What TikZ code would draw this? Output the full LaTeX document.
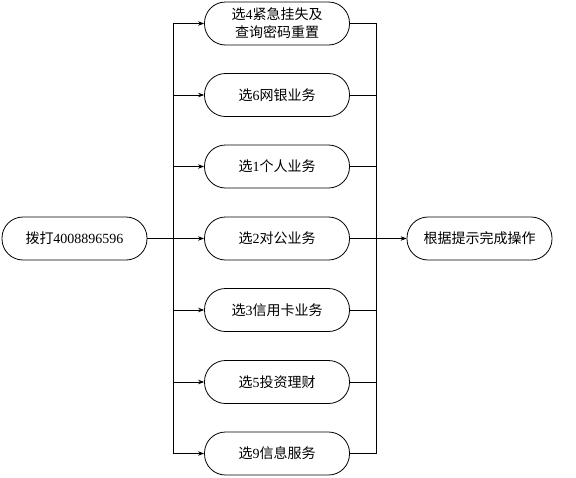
\documentclass[tikz,border=0pt]{standalone}
\usepackage{fontspec}
\setmainfont{Liberation Serif}
\newfontfamily\cjk{Noto Sans CJK SC}
\usetikzlibrary{arrows.meta}
\begin{document}
\begin{tikzpicture}[x=1pt,y=-1pt,
  box/.style={draw, line width=0.8pt, rounded corners=21pt, minimum width=145pt, minimum height=43pt, inner sep=0pt, align=center, font=\fontsize{14}{18}\selectfont},
  link/.style={line width=0.8pt},
  arr/.style={line width=0.8pt, -{Stealth[length=6pt,width=4.5pt]}}]
\useasboundingbox (0,0) rectangle (576,477);
\node[box] (start) at (74.5,238.5) {{\cjk 拨打}4008896596};
\node[box] (m1) at (277,23.5) {{\cjk 选}4{\cjk 紧急挂失及}\\{\cjk 查询密码重置}};
\node[box] (m2) at (277,95) {{\cjk 选}6{\cjk 网银业务}};
\node[box] (m3) at (277,166.5) {{\cjk 选}1{\cjk 个人业务}};
\node[box] (m4) at (277,238.5) {{\cjk 选}2{\cjk 对公业务}};
\node[box] (m5) at (277,310) {{\cjk 选}3{\cjk 信用卡业务}};
\node[box] (m6) at (277,382) {{\cjk 选}5{\cjk 投资理财}};
\node[box] (m7) at (277,453.5) {{\cjk 选}9{\cjk 信息服务}};
\node[box] (end) at (479.5,238.5) {{\cjk 根据提示完成操作}};
\coordinate (bx) at (173,0);
\coordinate (rx) at (376.5,0);
\draw[link] (start.east) -- (m4.west -| bx);
\draw[link] (m1.west -| bx) -- (m7.west -| bx);
\draw[link] (m1.east -| rx) -- (m7.east -| rx);
\foreach \i in {1,...,7}{
  \draw[arr] (m\i.west -| bx) -- (m\i.west);
  \draw[link] (m\i.east) -- (m\i.east -| rx);
}
\draw[arr] (m4.east) -- (end.west);
\end{tikzpicture}
\end{document}
